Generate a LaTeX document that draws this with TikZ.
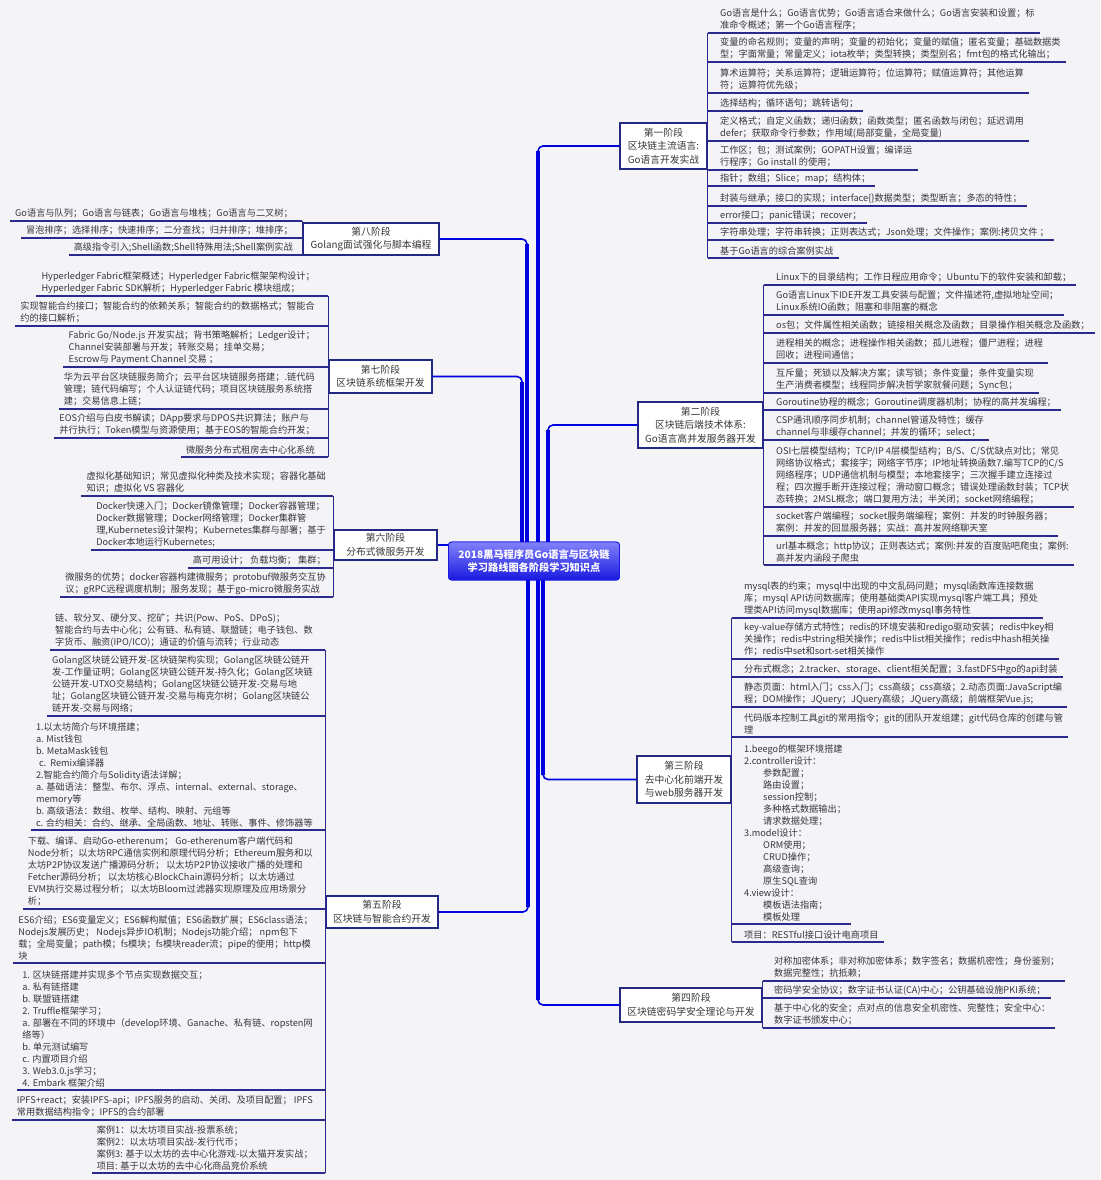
\documentclass[tikz,border=0pt]{standalone}
\usepackage{fontspec}
\setmainfont{Noto Sans CJK SC}
\usetikzlibrary{calc}
\definecolor{bg}{RGB}{244,244,246}
\definecolor{txt}{RGB}{55,55,60}
\definecolor{linec}{RGB}{42,42,140}
\definecolor{boxc}{RGB}{35,40,130}
\definecolor{trunkc}{RGB}{0,0,225}
\definecolor{roottop}{RGB}{130,130,250}
\definecolor{rootbot}{RGB}{25,25,225}
\newcommand\leaffont{\fontsize{9.2}{12}\selectfont}
\newcommand\stagefont{\fontsize{9.8}{13.5}\selectfont}
\newcommand\rootfont{\fontsize{10.2}{13}\selectfont\bfseries}
\newcommand\ind{\hspace*{19pt}}
\tikzset{
  leaf/.style={font=\leaffont, text=txt, align=left, inner xsep=5pt, inner ysep=2.5pt},
  rleaf/.style={leaf, anchor=south west},
  lleaf/.style={leaf, anchor=south east},
  stagebox/.style={draw=boxc, line width=1.3pt, fill=white, font=\stagefont, text=txt, align=center, inner sep=1pt},
  leafline/.style={draw=linec, line width=1.2pt},
  trunk/.style={draw=trunkc, line width=1.6pt, rounded corners=5pt},
  trunkthick/.style={draw=trunkc, line width=4.5pt},
  rootbox/.style={rounded corners=3pt, top color=roottop, bottom color=rootbot, draw=rootbot, line width=0.8pt, text=white, font=\rootfont, align=center, minimum width=171pt, minimum height=38pt},
}
\begin{document}
\begin{tikzpicture}[x=1pt,y=-1pt]
\fill[bg] (0,0) rectangle (1100,1180);
\useasboundingbox (0,0) rectangle (1100,1180);

% root
\node[rootbox] (root) at (534,561) {2018黑马程序员Go语言与区块链\\学习路线图各阶段学习知识点};

% stage boxes
\node[stagebox, minimum width=87pt, minimum height=46pt] (s1) at (663.5,146) {第一阶段\\区块链主流语言:\\Go语言开发实战};
\node[stagebox, minimum width=125pt, minimum height=46pt] (s2) at (700.5,425) {第二阶段\\区块链后端技术体系:\\Go语言高并发服务器开发};
\node[stagebox, minimum width=94pt, minimum height=47pt] (s3) at (684,779.5) {第三阶段\\去中心化前端开发\\与web服务器开发};
\node[stagebox, minimum width=142pt, minimum height=34pt] (s4) at (691,1005) {第四阶段\\区块链密码学安全理论与开发};
\node[stagebox, minimum width=112pt, minimum height=32pt] (s5) at (382,912) {第五阶段\\区块链与智能合约开发};
\node[stagebox, minimum width=103pt, minimum height=30pt] (s6) at (385.5,545) {第六阶段\\分布式微服务开发};
\node[stagebox, minimum width=103pt, minimum height=33pt] (s7) at (380.5,376.5) {第七阶段\\区块链系统框架开发};
\node[stagebox, minimum width=136pt, minimum height=32pt] (s8) at (371,239) {第八阶段\\Golang面试强化与脚本编程};

% trunks
\coordinate (r1) at ($(root.north)+(4,0)$);
\coordinate (r2) at ($(root.north)+(14,0)$);
\coordinate (r8) at ($(root.north)+(-7,0)$);
\coordinate (r7) at ($(root.north)+(-12,0)$);
\coordinate (r3) at ($(root.south)+(9,0)$);
\coordinate (r4) at ($(root.south)+(4,0)$);
\coordinate (r5) at ($(root.south)+(-6,0)$);
\foreach \r/\s/\d in {r1/s1/5, r2/s2/5, r8/s8/5, r7/s7/5} {
  \draw[trunkthick] (\r) -- ($(\r |- \s.west)+(0,\d)$);
}
\draw[trunk] (r1) |- (s1.west);
\draw[trunk] (r2) |- (s2.west);
\draw[trunk] (r8) |- (s8.east);
\draw[trunk] (r7) |- (s7.east);
\foreach \r/\s in {r3/s3, r4/s4, r5/s5} {
  \draw[trunkthick] (\r) -- ($(\r |- \s.west)+(0,-5)$);
}
\draw[trunk] (r3) |- (s3.west);
\draw[trunk] (r4) |- (s4.west);
\draw[trunk] (r5) |- (s5.east);
\draw[trunk] (root.west |- s6.east) -- (s6.east);
\node[rootbox] at (root) {2018黑马程序员Go语言与区块链\\学习路线图各阶段学习知识点};

% ---------- stage 1 leaves ----------
\node[rleaf] (a1) at (715,33) {Go语言是什么；Go语言优势；Go语言适合来做什么；Go语言安装和设置；标\\准命令概述；第一个Go语言程序；};
\node[rleaf] (a2) at (715,62) {变量的命名规则；变量的声明；变量的初始化；变量的赋值；匿名变量；基础数据类\\型；字面常量；常量定义；iota枚举；类型转换；类型别名；fmt包的格式化输出；};
\node[rleaf] (a3) at (715,93) {算术运算符；关系运算符；逻辑运算符；位运算符；赋值运算符；其他运算\\符；运算符优先级；};
\node[rleaf] (a4) at (715,111) {选择结构；循环语句；跳转语句；};
\node[rleaf] (a5) at (715,141) {定义格式；自定义函数；递归函数；函数类型；匿名函数与闭包；延迟调用\\defer；获取命令行参数；作用域(局部变量，全局变量)};
\node[rleaf] (a6) at (715,170) {工作区；包；测试案例；GOPATH设置；编译运\\行程序；Go install 的使用；};
\node[rleaf] (a7) at (715,186) {指针；数组；Slice；map；结构体；};
\node[rleaf] (a8) at (715,206) {封装与继承；接口的实现；interface\{\}数据类型；类型断言；多态的特性；};
\node[rleaf] (a9) at (715,223) {error接口；panic错误；recover；};
\node[rleaf] (a10) at (715,240) {字符串处理；字符串转换；正则表达式；Json处理；文件操作；案例:拷贝文件 ；};
\node[rleaf] (a11) at (715,258) {基于Go语言的综合案例实战};
\foreach \n in {a1,a2,a3,a4,a5,a6,a7,a8,a9,a10,a11}
  \draw[leafline] (s1.east |- \n.south) -- (\n.south east);
\draw[leafline] (s1.east |- a1.south) -- (s1.east |- a11.south);

% ---------- stage 2 leaves ----------
\node[rleaf] (b1) at (771,285) {Linux下的目录结构；工作日程应用命令；Ubuntu下的软件安装和卸载；};
\node[rleaf] (b2) at (771,315) {Go语言Linux下IDE开发工具安装与配置；文件描述符,虚拟地址空间；\\Linux系统IO函数；阻塞和非阻塞的概念};
\node[rleaf] (b3) at (771,333) {os包；文件属性相关函数；链接相关概念及函数；目录操作相关概念及函数；};
\node[rleaf] (b4) at (771,363) {进程相关的概念；进程操作相关函数；孤儿进程；僵尸进程；进程\\回收；进程间通信；};
\node[rleaf] (b5) at (771,393) {互斥量；死锁以及解决方案；读写锁；条件变量；条件变量实现\\生产消费者模型；线程同步解决哲学家就餐问题；Sync包；};
\node[rleaf] (b6) at (771,410) {Goroutine协程的概念；Goroutine调度器机制；协程的高并发编程；};
\node[rleaf] (b7) at (771,440) {CSP通讯顺序同步机制；channel管道及特性；缓存\\channel与非缓存channel；并发的循环；select；};
\node[rleaf] (b8) at (771,507) {OSI七层模型结构；TCP/IP 4层模型结构；B/S、C/S优缺点对比；常见\\网络协议格式；套接字；网络字节序；IP地址转换函数7.编写TCP的C/S\\网络程序；UDP通信机制与模型；本地套接字；三次握手建立连接过\\程；四次握手断开连接过程；滑动窗口概念；错误处理函数封装；TCP状\\态转换；2MSL概念；端口复用方法；半关闭；socket网络编程；};
\node[rleaf] (b9) at (771,536) {socket客户端编程；socket服务端编程；案例：并发的时钟服务器；\\案例：并发的回显服务器；实战：高并发网络聊天室};
\node[rleaf] (b10) at (771,565) {url基本概念；http协议；正则表达式；案例:并发的百度贴吧爬虫；案例:\\高并发内涵段子爬虫};
\foreach \n in {b1,b2,b3,b4,b5,b6,b7,b8,b9,b10}
  \draw[leafline] (s2.east |- \n.south) -- (\n.south east);
\draw[leafline] (s2.east |- b1.south) -- (s2.east |- b10.south);

% ---------- stage 3 leaves ----------
\node[rleaf] (c1) at (739,618) {mysql表的约束；mysql中出现的中文乱码问题；mysql函数库连接数据\\库；mysql API访问数据库；使用基础类API实现mysql客户端工具；预处\\理类API访问mysql数据库；使用api修改mysql事务特性};
\node[rleaf] (c2) at (739,659) {key-value存储方式特性；redis的环境安装和redigo驱动安装；redis中key相\\关操作；redis中string相关操作；redis中list相关操作；redis中hash相关操\\作；redis中set和sort-set相关操作};
\node[rleaf] (c3) at (739,677) {分布式概念；2.tracker、storage、client相关配置；3.fastDFS中go的api封装};
\node[rleaf] (c4) at (739,707) {静态页面：html入门；css入门；css高级；css高级；2.动态页面:JavaScript编\\程；DOM操作；JQuery；JQuery高级；JQuery高级；前端框架Vue.js;};
\node[rleaf] (c5) at (739,737) {代码版本控制工具git的常用指令；git的团队开发组建；git代码仓库的创建与管\\理};
\node[rleaf] (c6) at (739,924) {1.beego的框架环境搭建\\2.controller设计：\\\ind 参数配置；\\\ind 路由设置；\\\ind session控制；\\\ind 多种格式数据输出；\\\ind 请求数据处理；\\3.model设计：\\\ind ORM使用；\\\ind CRUD操作；\\\ind 高级查询；\\\ind 原生SQL查询\\4.view设计：\\\ind 模板语法指南；\\\ind 模板处理};
\node[rleaf] (c7) at (739,942) {项目：RESTful接口设计电商项目};
\foreach \n in {c1,c2,c3,c4,c5,c6,c7}
  \draw[leafline] (s3.east |- \n.south) -- (\n.south east);
\draw[leafline] (s3.east |- c1.south) -- (s3.east |- c7.south);

% ---------- stage 4 leaves ----------
\node[rleaf] (d1) at (769,981) {对称加密体系；非对称加密体系；数字签名；数据机密性；身份鉴别；\\数据完整性；抗抵赖；};
\node[rleaf] (d2) at (769,998) {密码学安全协议；数字证书认证(CA)中心；公钥基础设施PKI系统；};
\node[rleaf] (d3) at (769,1028) {基于中心化的安全；点对点的信息安全机密性、完整性；安全中心：\\数字证书颁发中心；};
\foreach \n in {d1,d2,d3}
  \draw[leafline] (s4.east |- \n.south) -- (\n.south east);
\draw[leafline] (s4.east |- d1.south) -- (s4.east |- d3.south);

% ---------- stage 8 leaves ----------
\node[lleaf] (h1) at (298,221) {Go语言与队列；Go语言与链表；Go语言与堆栈；Go语言与二叉树；};
\node[lleaf] (h2) at (298,238) {冒泡排序；选择排序；快速排序；二分查找；归并排序；堆排序；};
\node[lleaf] (h3) at (298,255) {高级指令引入;Shell函数;Shell特殊用法;Shell案例实战};
\foreach \n in {h1,h2,h3}
  \draw[leafline] (s8.west |- \n.south) -- (\n.south west);
\draw[leafline] (s8.west |- h1.south) -- (s8.west |- h3.south);

% ---------- stage 7 leaves ----------
\node[lleaf] (g1) at (320,296) {Hyperledger Fabric框架概述；Hyperledger Fabric框架架构设计；\\Hyperledger Fabric SDK解析；Hyperledger Fabric 模块组成；};
\node[lleaf] (g2) at (320,326) {实现智能合约接口；智能合约的依赖关系；智能合约的数据格式；智能合\\约的接口解析；};
\node[lleaf] (g3) at (320,367) {Fabric Go/Node.js 开发实战；背书策略解析；Ledger设计；\\Channel安装部署与开发；转账交易；挂单交易；\\Escrow与 Payment Channel 交易 ；};
\node[lleaf] (g4) at (320,409) {华为云平台区块链服务简介；云平台区块链服务搭建；.链代码\\管理；链代码编写；个人认证链代码；项目区块链服务系统搭\\建；交易信息上链；};
\node[lleaf] (g5) at (320,438) {EOS介绍与白皮书解读；DApp要求与DPOS共识算法；账户与\\并行执行；Token模型与资源使用；基于EOS的智能合约开发；};
\node[lleaf] (g6) at (320,457) {微服务分布式租房去中心化系统};
\foreach \n in {g1,g2,g3,g4,g5,g6}
  \draw[leafline] (s7.west |- \n.south) -- (\n.south west);
\draw[leafline] (s7.west |- g1.south) -- (s7.west |- g6.south);

% ---------- stage 6 leaves ----------
\node[lleaf] (f1) at (331,496) {虚拟化基础知识；常见虚拟化种类及技术实现；容器化基础\\知识；虚拟化 VS 容器化};
\node[lleaf] (f2) at (331,550) {Docker快速入门；Docker镜像管理；Docker容器管理；\\Docker数据管理；Docker网络管理；Docker集群管\\理,Kubernetes设计架构；Kubernetes集群与部署；基于\\Docker本地运行Kubernetes;};
\node[lleaf] (f3) at (331,568) {高可用设计； 负载均衡； 集群；};
\node[lleaf] (f4) at (331,597) {微服务的优势；docker容器构建微服务；protobuf微服务交互协\\议；gRPC远程调度机制；服务发现；基于go-micro微服务实战};
\foreach \n in {f1,f2,f3,f4}
  \draw[leafline] (s6.west |- \n.south) -- (\n.south west);
\draw[leafline] (s6.west |- f1.south) -- (s6.west |- f4.south);

% ---------- stage 5 leaves ----------
\node[lleaf] (e1) at (318,650) {链、软分叉、硬分叉、挖矿；共识(Pow、PoS、DPoS)；\\智能合约与去中心化；公有链、私有链、联盟链；电子钱包、数\\字货币、融资(IPO/ICO)；通证的价值与流转；行业动态};
\node[lleaf] (e2) at (318,716) {Golang区块链公链开发-区块链架构实现；Golang区块链公链开\\发-工作量证明；Golang区块链公链开发-持久化；Golang区块链\\公链开发-UTXO交易结构；Golang区块链公链开发-交易与地\\址；Golang区块链公链开发-交易与梅克尔树；Golang区块链公\\链开发-交易与网络；};
\node[lleaf] (e3) at (318,830) {1.以太坊简介与环境搭建；\\a. Mist钱包\\b. MetaMask钱包\\\hspace*{3pt}c.\ \ Remix编译器\\2.智能合约简介与Solidity语法详解；\\a. 基础语法：整型、布尔、浮点、internal、external、storage、\\memory等\\b. 高级语法：数组、枚举、结构、映射、元组等\\c. 合约相关：合约、继承、全局函数、地址、转账、事件、修饰器等};
\node[lleaf] (e4) at (318,909) {下载、编译、启动Go-etherenum； Go-etherenum客户端代码和\\Node分析；以太坊RPC通信实例和原理代码分析；Ethereum服务和以\\太坊P2P协议发送广播源码分析； 以太坊P2P协议接收广播的处理和\\Fetcher源码分析； 以太坊核心BlockChain源码分析；以太坊通过\\EVM执行交易过程分析； 以太坊Bloom过滤器实现原理及应用场景分\\析；};
\node[lleaf] (e5) at (318,963) {ES6介绍；ES6变量定义；ES6解构赋值；ES6函数扩展；ES6class语法；\\Nodejs发展历史； Nodejs异步IO机制；Nodejs功能介绍； npm包下\\载；全局变量；path模；fs模块；fs模块reader流；pipe的使用；http模\\块};
\node[lleaf] (e6) at (318,1090) {1. 区块链搭建并实现多个节点实现数据交互；\\a. 私有链搭建\\b. 联盟链搭建\\2. Truffle框架学习；\\a. 部署在不同的环境中（develop环境、Ganache、私有链、ropsten网\\络等）\\b. 单元测试编写\\c. 内置项目介绍\\3. Web3.0.js学习；\\4. Embark 框架介绍};
\node[lleaf] (e7) at (318,1120) {IPFS+react；安装IPFS-api；IPFS服务的启动、关闭、及项目配置； IPFS\\常用数据结构指令；IPFS的合约部署};
\node[lleaf] (e8) at (318,1173) {案例1：以太坊项目实战-投票系统；\\案例2：以太坊项目实战-发行代币；\\案例3: 基于以太坊的去中心化游戏-以太猫开发实战；\\项目: 基于以太坊的去中心化商品竞价系统};
\foreach \n in {e1,e2,e3,e4,e5,e6,e7,e8}
  \draw[leafline] (s5.west |- \n.south) -- (\n.south west);
\draw[leafline] (s5.west |- e1.south) -- (s5.west |- e8.south);
\end{tikzpicture}
\end{document}
